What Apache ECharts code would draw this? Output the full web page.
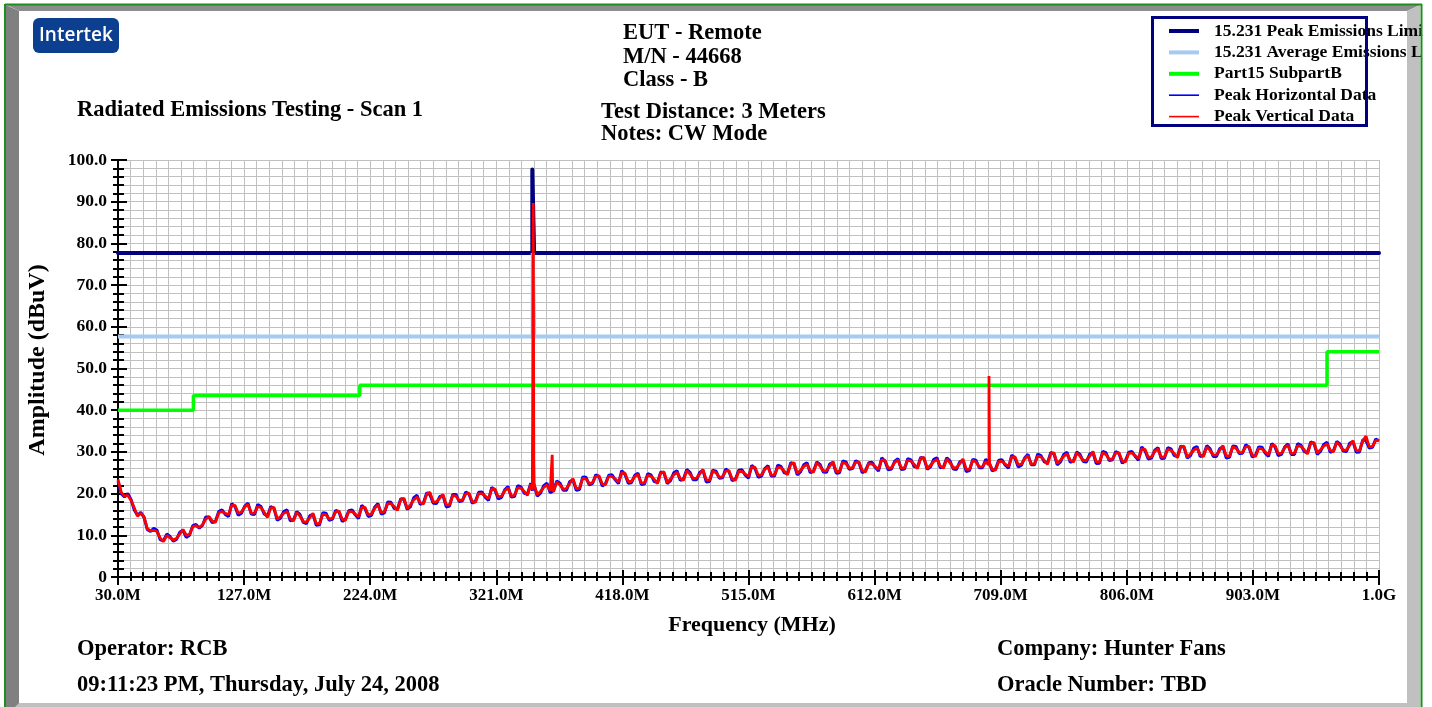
<!DOCTYPE html>
<html><head><meta charset="utf-8">
<script src="https://cdn.jsdelivr.net/npm/echarts@6/dist/echarts.min.js"></script>
<style>html,body{margin:0;padding:0;background:#fff;}#c{width:1432px;height:707px;}</style>
</head><body><div id="c"></div>
<script>
// ---- scan grid (MHz) ----
const scanStartMHz = 30;
const scanStepMHz = 5;

// Peak Vertical Data (dBuV): readings at 30, 35, ... 1000 MHz
const peakVertical = [
23.4,19.4,18.4,14.6,14.5,11.1,10.9,8.5,9.4,9.2,
11.4,10.2,12.3,12.5,14.5,13.1,15.7,14.9,17.2,15.6,
17.4,15.3,16.6,14.3,16.7,14.5,15.7,13.4,14.6,13.2,
15.3,12.8,14.9,14.1,15.8,13.6,15.7,14.4,16.7,15.1,
17.3,15.7,17.6,16.0,18.9,17.3,19.2,17.5,20.3,18.0,
19.8,17.3,19.4,18.5,20.1,17.9,20.0,18.8,21.1,19.4,
21.4,19.6,21.3,19.6,22.4,20.5,22.1,20.4,22.1,21.2,
23.6,21.3,23.5,22.6,24.3,22.1,24.1,22.8,24.9,22.9,
24.6,22.6,24.2,22.4,25.2,23.5,25.1,23.2,24.7,23.7,
25.8,23.2,25.0,24.0,25.5,23.2,25.3,24.1,26.3,24.5,
26.4,24.5,26.2,24.5,27.4,25.6,27.0,25.1,26.6,25.5,
27.7,25.3,27.2,26.2,27.6,25.2,27.1,25.8,28.0,26.2,
28.1,26.2,27.8,26.0,28.7,26.8,28.2,26.1,27.4,26.2,
28.3,25.8,27.6,26.4,27.8,25.6,27.7,26.5,28.8,27.1,
29.1,27.2,28.8,27.0,29.8,28.0,29.5,27.6,29.0,28.0,
30.1,27.6,29.4,28.3,29.8,27.6,29.7,28.4,30.6,28.8,
30.7,28.8,30.4,28.6,31.4,29.5,30.9,28.9,30.4,29.3,
31.5,29.0,30.9,29.9,31.3,28.9,30.7,29.3,31.5,29.7,
31.6,29.7,31.3,29.5,32.3,30.5,31.9,30.0,31.5,30.5,
32.7,30.3,33.8,31.3,32.8
];
// Peak Vertical Data (dBuV): readings at 32.5, 37.5, ... 997.5 MHz
const peakVerticalMid = [
20.3,19.6,16.6,15.3,11.6,11.2,9.3,10.0,8.9,10.3,
10.0,12.1,11.9,13.9,13.4,15.4,15.3,17.2,15.3,16.8,
15.3,16.9,15.5,16.6,13.9,15.3,14.0,15.5,13.3,14.2,
12.8,15.1,13.9,15.6,13.8,15.7,15.1,16.7,14.9,16.5,
15.4,17.6,16.9,18.6,16.4,18.5,17.8,19.9,18.0,18.9,
17.3,19.6,18.3,19.9,18.1,20.0,19.4,21.1,19.2,20.7,
19.4,21.4,20.5,22.2,19.7,21.5,20.7,22.8,21.0,22.4,
21.2,23.7,22.4,24.1,22.3,24.2,23.5,25.0,22.9,24.1,
22.5,24.4,23.4,25.0,22.6,24.5,23.6,25.5,23.6,24.7,
23.3,25.4,23.9,25.4,23.5,25.3,24.7,26.4,24.4,25.8,
24.4,26.3,25.4,27.1,24.8,26.5,25.5,27.4,25.4,26.6,
25.3,27.5,26.1,27.5,25.5,27.2,26.5,28.1,26.1,27.5,
26.1,28.0,27.0,28.5,26.0,27.7,26.6,28.3,26.2,27.2,
25.8,28.0,26.4,27.7,25.8,27.7,27.1,28.8,26.9,28.4,
27.1,29.0,28.0,29.6,27.2,29.0,28.0,29.8,27.9,29.0,
27.6,29.8,28.2,29.7,27.8,29.7,29.1,30.7,28.7,30.1,
28.7,30.6,29.6,31.2,28.7,30.4,29.3,31.2,29.2,30.4,
29.0,31.2,29.8,31.2,29.2,30.9,30.0,31.6,29.6,31.0,
29.6,31.5,30.5,32.1,29.7,31.4,30.4,32.3,30.4,31.6,
30.3,32.6,31.2,32.7
];
// Peak Horizontal Data (dBuV): readings at 30, 35, ... 1000 MHz
const peakHorizontal = [
23.0,19.2,18.6,14.8,14.3,10.9,11.2,8.7,9.7,9.0,
11.2,10.0,12.6,12.4,14.4,13.4,16.1,14.5,16.9,15.3,
17.7,15.0,16.9,14.6,16.4,14.1,16.1,13.7,15.0,12.8,
15.0,12.5,15.3,13.9,15.6,13.9,16.1,14.0,16.4,14.8,
17.6,15.4,17.9,16.3,18.6,16.9,19.6,17.8,19.7,17.6,
19.5,17.0,19.8,18.3,19.9,18.2,20.4,18.4,20.8,19.1,
21.7,19.3,21.6,19.9,22.1,20.1,22.5,20.7,22.5,20.8,
23.3,21.0,23.9,22.4,24.1,22.4,24.5,22.4,24.6,22.6,
24.9,22.3,24.5,22.7,24.9,23.1,25.5,23.5,25.1,23.3,
25.5,22.9,25.4,23.8,25.3,23.5,25.7,23.7,26.0,24.2,
26.7,24.2,26.5,24.8,27.1,25.2,27.4,25.4,27.0,25.1,
27.4,25.0,27.6,26.0,27.4,25.5,27.5,25.4,27.7,25.9,
28.4,25.9,28.1,26.3,28.4,26.4,28.6,26.4,27.8,25.8,
28.0,25.5,28.0,26.2,27.6,25.9,28.1,26.1,28.5,26.8,
29.4,26.9,29.1,27.3,29.5,27.6,29.9,27.9,29.4,27.6,
29.8,27.3,29.8,28.1,29.6,27.9,30.1,28.0,30.3,28.5,
31.0,28.5,30.7,28.9,31.1,29.1,31.3,29.2,30.8,28.9,
31.2,28.7,31.3,29.7,31.1,29.2,31.1,28.9,31.2,29.4,
31.9,29.4,31.6,29.8,32.0,30.1,32.3,30.3,31.9,30.1,
32.4,30.0,32.7,31.1,32.6
];
// Peak Horizontal Data (dBuV): readings at 32.5, 37.5, ... 997.5 MHz
const peakHorizontalMid = [
20.0,20.0,16.1,15.5,11.4,11.7,8.9,10.3,8.6,10.7,
9.5,12.3,11.7,14.4,13.0,15.7,15.0,17.6,14.8,17.0,
15.1,17.4,15.1,16.9,13.6,15.7,13.5,15.7,13.1,14.7,
12.4,15.4,13.6,16.0,13.3,15.9,14.9,17.2,14.5,16.8,
15.1,18.0,16.4,18.8,16.2,19.0,17.4,20.2,17.7,19.3,
16.8,19.8,18.1,20.4,17.7,20.3,19.1,21.5,18.7,20.9,
19.2,21.9,20.1,22.5,19.4,21.9,20.2,23.0,20.8,22.9,
20.8,24.0,22.1,24.5,21.8,24.4,23.3,25.5,22.5,24.4,
22.2,24.8,22.9,25.2,22.4,25.0,23.2,25.8,23.3,25.1,
22.8,25.6,23.7,25.9,23.1,25.6,24.4,26.8,23.9,26.0,
24.2,26.8,25.0,27.4,24.5,26.9,25.0,27.6,25.2,27.1,
24.9,27.8,25.8,27.9,25.0,27.4,26.3,28.6,25.7,27.8,
25.8,28.4,26.5,28.7,25.8,28.2,26.2,28.6,25.9,27.6,
25.3,28.2,26.2,28.2,25.4,28.0,26.8,29.2,26.4,28.6,
26.9,29.5,27.6,29.9,26.9,29.4,27.5,30.0,27.7,29.5,
27.2,30.1,27.9,30.1,27.3,29.9,28.9,31.2,28.3,30.4,
28.4,31.0,29.1,31.4,28.5,30.9,28.9,31.5,28.9,30.8,
28.5,31.4,29.6,31.7,28.8,31.2,29.7,32.0,29.1,31.2,
29.4,32.0,30.1,32.4,29.4,31.8,29.9,32.5,30.2,32.1,
29.9,32.9,30.9,33.1
];
// narrow emissions: [MHz, dBuV]
const verticalSpikes = [
  [348.8, 20.9], [349.4, 89.7], [349.9, 21.4],
  [363.6, 20.8], [364.0, 29.3], [364.4, 21.0],
  [699.6, 26.9], [700.0, 48.2], [700.4, 27.2]
];
const horizontalSpikes = [
  [348.8, 20.7], [349.4, 34.0], [349.9, 21.3]
];
// limit lines: [MHz, dBuV]
const peakLimit = [[30, 77.7], [348.7, 77.7], [348.7, 97.7], [350.1, 97.7], [350.1, 77.7], [1000, 77.7]];
const averageLimit = [[30, 57.7], [349.0, 57.7], [349.0, 77.7], [350.2, 77.7], [350.2, 57.7], [1000, 57.7]];
const part15Limit = [[30, 40], [88, 40], [88, 43.5], [216, 43.5], [216, 46], [960, 46], [960, 54], [1000, 54]];

const xTickLabels = ['30.0M','127.0M','224.0M','321.0M','418.0M','515.0M','612.0M','709.0M','806.0M','903.0M','1.0G'];
const yTickLabels = ['0','10.0','20.0','30.0','40.0','50.0','60.0','70.0','80.0','90.0','100.0'];
const seriesNames = ['15.231 Peak Emissions Limit','15.231 Average Emissions Limit','Part15 SubpartB','Peak Horizontal Data','Peak Vertical Data'];

// ---- build ----
const SERIF = '"Liberation Serif","Times New Roman",serif';
function scanToPairs(vals, mids, spikes) {
  const pts = vals.map((v, i) => [scanStartMHz + i * scanStepMHz, v]);
  const mpts = mids.map((v, i) => [scanStartMHz + scanStepMHz / 2 + i * scanStepMHz, v]);
  return pts.concat(mpts, spikes).sort((a, b) => a[0] - b[0]);
}
const vertData = scanToPairs(peakVertical, peakVerticalMid, verticalSpikes);
const horzData = scanToPairs(peakHorizontal, peakHorizontalMid, horizontalSpikes);

const tickLine = {color: '#000', width: 2};
const chart = echarts.init(document.getElementById('c'), null, {renderer: 'canvas'});
const TFONT = 'bold 22.5px ' + SERIF;

function txt(text, x, y) {
  return {
    type: 'text', x: x, y: y, z: 5,
    style: {text: text, fill: '#000', font: TFONT, align: 'left', verticalAlign: 'middle'}
  };
}

const thinIcon = 'path://M0,0M0,1.2H30V2.8H0ZM30,4';

chart.setOption({
  animation: false,
  backgroundColor: '#fff',
  grid: {left: 118, top: 160, right: 53, bottom: 130, containLabel: false},
  legend: {
    orient: 'vertical', left: 1169, top: 22, padding: 0,
    itemWidth: 30, itemHeight: 4, itemGap: 3.4, selectedMode: false,
    itemStyle: {borderWidth: 0},
    textStyle: {fontFamily: SERIF, fontWeight: 'bold', fontSize: 17.5, lineHeight: 17, color: '#000', padding: [0, 0, 0, 10]},
    data: [
      {name: seriesNames[0], icon: 'rect'},
      {name: seriesNames[1], icon: 'rect'},
      {name: seriesNames[2], icon: 'rect'},
      {name: seriesNames[3], icon: thinIcon},
      {name: seriesNames[4], icon: thinIcon}
    ]
  },
  xAxis: [
    {
      type: 'value', min: 30, max: 1000, interval: 97, position: 'bottom',
      axisLine: {show: true, onZero: false, lineStyle: {color: '#000', width: 2}},
      axisTick: {show: true, inside: false, length: 8, lineStyle: tickLine},
      minorTick: {show: true, splitNumber: 10, length: 4, lineStyle: tickLine},
      axisLabel: {
        formatter: v => xTickLabels[Math.round((v - 30) / 97)],
        color: '#000', fontFamily: SERIF, fontWeight: 'bold', fontSize: 17, margin: 10
      },
      splitLine: {show: true, lineStyle: {color: '#c0c0c0', width: 1}},
      minorSplitLine: {show: true, lineStyle: {color: '#c0c0c0', width: 1}}
    },
    {
      type: 'value', min: 30, max: 1000, interval: 97, position: 'bottom',
      axisLine: {show: false, onZero: false},
      axisTick: {show: true, inside: true, length: 7, lineStyle: tickLine},
      minorTick: {show: true, splitNumber: 10, length: 5, lineStyle: tickLine},
      axisLabel: {show: false}, splitLine: {show: false}
    }
  ],
  yAxis: [
    {
      type: 'value', min: 0, max: 100, interval: 10, position: 'left',
      axisLine: {show: true, onZero: false, lineStyle: {color: '#000', width: 2}},
      axisTick: {show: true, inside: false, length: 7, lineStyle: tickLine},
      minorTick: {show: true, splitNumber: 5, length: 5, lineStyle: tickLine},
      axisLabel: {
        formatter: v => yTickLabels[Math.round(v / 10)],
        color: '#000', fontFamily: SERIF, fontWeight: 'bold', fontSize: 17.5, margin: 11
      },
      splitLine: {show: true, lineStyle: {color: '#c0c0c0', width: 1}},
      minorSplitLine: {show: true, lineStyle: {color: '#c0c0c0', width: 1}}
    },
    {
      type: 'value', min: 0, max: 100, interval: 10, position: 'left',
      axisLine: {show: false, onZero: false},
      axisTick: {show: true, inside: true, length: 9, lineStyle: tickLine},
      minorTick: {show: true, splitNumber: 5, length: 6, lineStyle: tickLine},
      axisLabel: {show: false}, splitLine: {show: false}
    }
  ],
  series: [
    {name: seriesNames[0], type: 'line', data: peakLimit, symbol: 'none', z: 2,
     lineStyle: {color: '#000080', width: 4, cap: 'round', join: 'round'}, itemStyle: {color: '#000080'}},
    {name: seriesNames[1], type: 'line', data: averageLimit, symbol: 'none', z: 2,
     lineStyle: {color: '#a6caf0', width: 4}, itemStyle: {color: '#a6caf0'}},
    {name: seriesNames[2], type: 'line', data: part15Limit, symbol: 'none', z: 2,
     lineStyle: {color: '#00ff00', width: 3.5}, itemStyle: {color: '#00ff00'}},
    {name: seriesNames[3], type: 'line', data: horzData, symbol: 'none', z: 3, sampling: null,
     lineStyle: {color: '#0000ff', width: 3}, itemStyle: {color: '#0000ff'}},
    {name: seriesNames[4], type: 'line', data: vertData, symbol: 'none', z: 4, sampling: null,
     lineStyle: {color: '#ff0000', width: 2.8}, itemStyle: {color: '#ff0000'}}
  ],
  graphic: [
    // window frame
    {type: 'polygon', z: 0, shape: {points: [[7, 5], [1420, 5], [1407, 11], [19, 11]]}, style: {fill: '#8c8c8c'}},
    {type: 'polygon', z: 0, shape: {points: [[6, 5], [19, 11], [19, 707], [6, 707]]}, style: {fill: '#808080'}},
    {type: 'polygon', z: 0, shape: {points: [[1420, 5], [1420, 707], [1407, 707], [1407, 11]]}, style: {fill: '#c0c0c0'}},
    {type: 'polygon', z: 0, shape: {points: [[19, 703], [1407, 703], [1411, 707], [15, 707]]}, style: {fill: '#c0c0c0'}},
    {type: 'rect', z: 100, shape: {x: 1422.5, y: 0, width: 10, height: 707}, style: {fill: '#fff'}},
    {type: 'line', z: 101, shape: {x1: 5, y1: 4.5, x2: 1422, y2: 4.5}, style: {stroke: '#1e8c1e', lineWidth: 2}},
    {type: 'line', z: 101, shape: {x1: 5, y1: 4, x2: 5, y2: 707}, style: {stroke: '#1e8c1e', lineWidth: 2}},
    {type: 'line', z: 101, shape: {x1: 1421.5, y1: 4, x2: 1421.5, y2: 707}, style: {stroke: '#1e8c1e', lineWidth: 2}},
    // legend box
    {type: 'rect', z: 5, shape: {x: 1152.5, y: 17.5, width: 214, height: 108}, style: {fill: 'none', stroke: '#000080', lineWidth: 3}},
    // logo
    {type: 'rect', z: 5, shape: {x: 33, y: 18, width: 86, height: 35, r: 6}, style: {fill: '#0c3f8f'}},
    {type: 'text', z: 6, x: 76, y: 36, style: {text: 'Intertek', fill: '#fff', font: '600 19px "Open Sans", sans-serif', align: 'center', verticalAlign: 'middle'}},
    // header texts
    txt('Radiated Emissions Testing - Scan 1', 77, 110),
    txt('EUT - Remote', 623, 33),
    txt('M/N - 44668', 623, 57),
    txt('Class - B', 623, 80),
    txt('Test Distance: 3 Meters', 601, 112),
    txt('Notes: CW Mode', 601, 134),
    // axis titles
    {type: 'text', z: 5, x: 752, y: 625,
     style: {text: 'Frequency (MHz)', fill: '#000', font: 'bold 22px ' + SERIF, align: 'center', verticalAlign: 'middle'}},
    {type: 'text', z: 5, x: 38, y: 360, rotation: Math.PI / 2,
     style: {text: 'Amplitude (dBuV)', fill: '#000', font: 'bold 24px ' + SERIF, align: 'center', verticalAlign: 'middle'}},
    // footer texts
    txt('Operator: RCB', 77, 649),
    txt('09:11:23 PM, Thursday, July 24, 2008', 77, 685),
    txt('Company: Hunter Fans', 997, 649),
    txt('Oracle Number: TBD', 997, 685)
  ]
});
</script>
</body></html>
